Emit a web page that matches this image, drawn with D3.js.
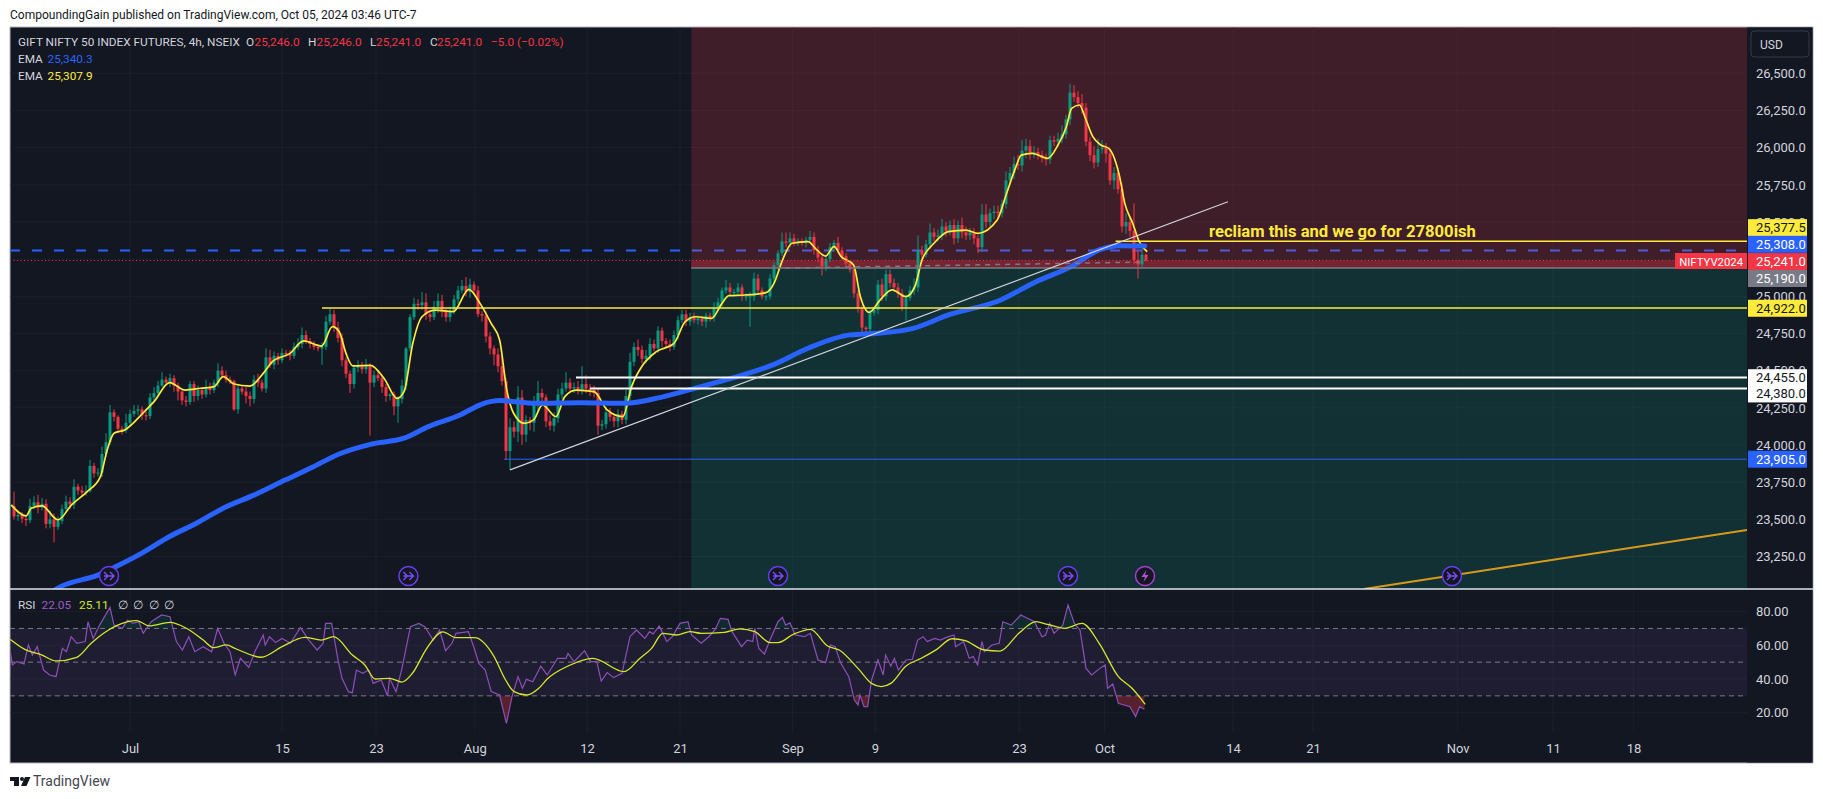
<!DOCTYPE html>
<html>
<head>
<meta charset="utf-8">
<script src="https://cdn.jsdelivr.net/npm/d3@7/dist/d3.min.js"></script>
<style>
  html, body { margin: 0; padding: 0; background: #fff; overflow: hidden; }
  text { font-family: Roboto, sans-serif; }
</style>
</head>
<body>
<script>
// --------------------------------------------------
// Data (one bar = 4h candle slot)
// --------------------------------------------------
const closes = [
  23590,23520,23530,23505,23495,23590,23615,23580,23605,23470,
  23500,23450,23490,23570,23620,23600,23720,23695,23680,23690,
  23860,23810,23815,23940,24020,24220,24190,24110,24100,24150,
  24210,24230,24240,24200,24195,24320,24350,24400,24440,24420,
  24450,24400,24360,24300,24290,24410,24330,24370,24340,24390,
  24370,24420,24500,24470,24440,24430,24240,24380,24360,24330,
  24310,24440,24420,24380,24590,24540,24600,24570,24620,24610,
  24600,24660,24680,24740,24700,24680,24660,24650,24660,24830,
  24880,24790,24720,24570,24480,24410,24520,24530,24510,24530,
  24420,24470,24450,24390,24330,24340,24260,24310,24400,24650,
  24860,24950,24940,24960,24880,24860,24930,24970,24900,24860,
  24900,24980,25040,25070,25030,25080,25040,24880,24870,24730,
  24650,24610,24530,24430,23960,24120,24090,24320,24070,24170,
  24150,24270,24350,24320,24160,24130,24180,24340,24380,24420,
  24380,24390,24370,24410,24380,24370,24350,24130,24140,24220,
  24190,24160,24210,24170,24330,24560,24660,24640,24580,24600,
  24680,24650,24770,24700,24680,24660,24740,24840,24880,24830,
  24860,24840,24850,24830,24870,24860,24920,24960,25040,25060,
  25030,25030,25060,25000,25000,25000,25120,25040,25000,25000,
  25120,25210,25290,25370,25360,25390,25360,25370,25360,25380,
  25400,25310,25260,25200,25250,25330,25360,25310,25270,25220,
  25180,25020,24920,24790,24780,24890,24910,25080,25000,25150,
  25090,25060,25020,24930,24990,25040,25060,25310,25280,25350,
  25430,25400,25410,25470,25440,25480,25390,25480,25430,25410,
  25430,25390,25330,25550,25500,25560,25570,25560,25620,25780,
  25830,25890,25880,25980,26010,25960,25970,25950,25930,25920,
  26050,26040,26060,26090,26190,26370,26340,26300,26270,26040,
  25950,25900,25990,26000,25960,25780,25830,25720,25470,25500,
  25440,25245,25215,25280,25241
];
const wickUp = [
  20,97,30,20,20,50,40,50,40,30, 60,40,30,30,40,30,50,20,30,40,
  40,20,30,50,60,50,20,10,20,60, 30,40,30,20,25,30,40,30,50,20,
  30,20,20,10,30,20,20,30,20,50, 30,20,50,30,30,20,10,30,20,30,
  30,30,40,20,60,50,30,20,30,20, 30,30,40,50,30,20,20,20,30,40,
  40,30,40,30,20,20,20,40,30,50, 20,30,30,20,20,10,20,20,40,10,
  20,40,30,70,60,30,40,50,40,20, 30,30,30,40,60,40,20,30,20,30,
  30,20,40,70,20,60,40,77,50,30, 20,60,80,30,20,40,40,40,40,70,
  30,30,40,120,60,30,30,30,30,40, 30,20,30,20,40,60,30,50,30,40,
  40,30,30,20,20,30,30,30,30,30, 30,30,20,20,20,20,40,30,20,50,
  30,20,30,20,20,30,40,30,20,10, 30,20,20,60,60,40,30,20,20,20,
  40,30,30,30,30,30,20,40,20,20, 10,10,20,20,10,20,20,30,40,30,
  30,30,30,30,20,30,60,100,30,30, 60,30,40,50,30,30,40,30,50,40,
  30,30,20,70,70,30,40,40,30,60, 40,50,60,70,50,40,40,30,30,30,
  30,30,40,60,30,60,50,40,60,30, 30,60,70,50,30,30,40,30,40,60,
  40,185,60,40,5
];
const wickDown = [
  30,20,30,30,40,20,20,40,20,30, 30,105,20,20,20,30,30,30,20,20,
  10,30,20,30,20,20,30,30,30,20, 20,20,30,30,30,20,30,20,10,20,
  30,40,60,30,30,20,40,30,30,20, 30,20,30,20,20,20,10,30,20,50,
  50,30,30,20,30,20,30,30,20,20, 30,20,20,30,20,30,20,20,110,20,
  20,30,30,40,30,60,30,30,30,30, 357,30,20,40,40,30,60,110,30,30,
  20,20,30,30,40,30,20,40,40,30, 30,20,30,20,30,40,30,20,40,40,
  40,73,40,30,60,127,40,70,68,50, 50,60,50,60,40,30,40,30,30,20,
  30,30,30,30,30,40,30,60,30,30, 30,40,40,30,30,40,30,40,30,30,
  30,20,30,40,20,30,20,30,20,30, 30,20,30,30,40,30,30,20,30,20,
  30,30,20,30,30,204,30,30,20,30, 20,30,30,20,30,30,20,20,20,30,
  20,30,30,60,30,20,30,20,30,30, 20,30,30,40,20,20,20,30,30,30,
  30,30,30,30,93,20,30,30,30,20, 30,30,30,30,40,30,40,30,40,30,
  30,40,40,30,40,30,40,40,30,30, 30,40,30,40,50,40,30,30,30,40,
  30,30,30,30,30,40,30,30,40,30, 40,40,30,30,60,30,60,30,40,50,
  40,30,95,20,5
];

const fastEmaBars = [0.3,4,5.3,8,12,15.4,19.3,22.6,24.3,26,28.7,33.2,36,39.9,43.8,47.7,51,53.3,56,60,63.3,65.6,70,73.4,77.9,80.6,82.3,84,85.7,90.1,93.5,96.8,98.5,100.7,103,106.3,110.8,114.7,117.5,120.3,122.4,124.2,125.9,128.6,130.9,133.1,136.5,138.7,141.5,146,149.3,153.2,155.4,158.2,161.6,166,168.8,171.4,175.4,178,179.7,183.7,189,191,193.3,195.5,199.5,201.7,203.9,206,207.8,210.9,212.6,214.8,217.5,220.5,224,226.2,228,231,234.6,239,242,246.8,249,251.5,252.8,255.5,259.4,262,264.1,265.4,267.4,268.7,270.7,272.7,274.7,277.4,278.7,280.7,282.3,284.3];
const fastEmaValues = [23598,23524,23575,23591,23497,23598,23687,23788,23967,24079,24102,24214,24292,24420,24370,24382,24393,24460,24411,24397,24482,24561,24617,24700,24666,24796,24762,24617,24532,24536,24449,24314,24359,24684,24863,24908,24897,25047,24953,24818,24706,24370,24214,24146,24169,24270,24191,24326,24370,24359,24236,24191,24393,24538,24628,24684,24830,24863,24852,24953,25005,25009,25025,25088,25256,25357,25368,25312,25271,25334,25267,25211,24998,24893,24975,25043,24998,25065,25244,25357,25435,25446,25424,25513,25680,25872,25950,25962,25928,26018,26141,26264,26287,26208,26074,26018,25995,25805,25625,25490,25368,25300];

const slowEmaBars = [8,12,22.1,26.5,33.2,39.9,46.6,53.3,61.1,68.9,75.6,82.3,90.1,98.5,104.6,112.5,118,122.5,131.4,142.6,153.8,162.7,170.3,178.9,190.7,199.5,210,217,225.8,234.6,247.7,256.5,265.3,272.3,277.5,283.7];
const slowEmaValues = [22960,23038,23127,23183,23277,23385,23474,23575,23665,23766,23851,23940,24005,24046,24124,24202,24276,24299,24281,24285,24281,24321,24375,24438,24539,24651,24741,24752,24785,24875,24976,25099,25200,25312,25341,25339];

const rsiBars = [0.1,0.6,1.7,3.5,4.6,5.6,6.8,8.4,9.9,11.5,13.1,14.1,15.3,16.7,18.8,19.5,20.8,22.4,25,26,28.1,29.4,30.7,32.2,33.3,35.3,37.9,40,41.6,43.1,44.7,46.2,48.3,50.4,51.9,53.5,55,56.3,57.6,59.7,61.2,63.3,63.8,64.9,66.4,68,70.1,72.6,74.7,76.8,78.3,78.9,80.4,82,83,84.6,85.6,86.6,88.2,89.7,90.8,92.8,94.4,94.9,96.5,98,100.1,102.2,103.7,105.8,107.4,108.9,110.5,111.5,114.6,116.2,117.2,118.8,120.3,122.4,124.1,125.5,127,128.1,129.1,130.7,132.7,134.3,136.9,139,139.5,141,142.1,143.6,145.2,146.7,147.8,149.3,150.9,153,155,156.6,158.7,159.9,160.8,162.3,164.2,165.6,167.5,169.5,170.4,172.8,174.7,176.2,177.6,179.5,180.5,182.9,184.3,185.7,186.2,187.2,188.6,190,192,193.1,193.9,195,196.3,198.6,200.1,202,203.9,205.1,206.3,207.7,209.7,211.1,212,212.5,213.5,214.4,215.4,217,218.3,218.9,220.2,221.1,222.1,224,225.6,226.9,228.3,229.3,231.2,232.6,234.1,236,236.4,238.4,239.8,240.8,241.9,243,243.6,245.5,247.3,248.2,250.3,252.7,256.1,258,258.9,259.9,261,263.2,264.5,266.1,267.5,269,270.4,272.8,273.8,274.4,275.7,277.1,280,281.4,282.4,283.6];
const rsiValues = [56.2,48.3,50.3,48.9,60.2,54.2,59.2,45.3,42.4,41.4,58.2,56.2,65.1,61.2,62.2,74,64.1,72,82.5,72,70.1,75,73,74,67.1,74,78,77,62.2,57.2,65.1,56.2,59.2,56.2,70.1,61.2,56.2,42.4,52.3,46.9,56.2,66.1,60.2,65.1,61.6,64.1,61.2,70.5,63.1,57.2,61.2,73,73,51.3,40.4,32.5,31.9,45.3,43.4,45.3,37.4,39.4,29.9,40.4,32.5,46.3,71.1,73,71.1,63.1,69.1,56.8,61.2,67.1,68.1,57.2,49.3,45.3,32.5,30.5,13.7,29.5,41.4,34.5,39.8,38.4,47.7,42.4,52.3,52.3,55.2,50.3,52.9,56.8,50.3,50.3,38.8,43.8,40.8,43.4,65.1,69.1,64.1,68.1,66.7,71.5,62.2,65.1,73,74,66.1,61.2,65.1,69.1,76,75.4,68.1,59.2,63.1,62.2,70.1,58.2,54.8,63.1,74,76.6,72,73.4,66.1,65.1,67.1,51.3,49.7,60.2,59.2,49.3,41.4,27.5,24.6,30.5,23.6,23.6,39.4,51.3,42.4,54.2,47.7,52.3,45.3,51.3,51.7,63.1,65.1,62.2,64.1,63.1,64.7,66.1,59.2,62.2,52.3,53.3,48.3,62.2,56.2,60.2,61.2,74,72,78,74,65.1,66.1,73,67.1,72,83.9,73,69.1,46.3,42.4,46.9,48.3,34.5,37,25.6,23.6,17.7,23.6,22];

const rsiMaBars = [0.1,3.7,7.9,11.5,16.7,20.3,23.4,26.5,31.7,34.8,40,44.1,48.3,50.9,54,56.6,62.8,68,73.7,77.8,80.9,85.6,88.7,91.3,94.9,98,100.6,104.2,108.2,111.5,116.2,120.8,123.9,126,129.1,132.2,134.3,139.5,145.7,153.5,157.5,160.4,163.2,166.6,170,172.8,178.6,182.4,186.2,190,192,195.8,200.1,204.4,207.3,212,215.4,217.8,220.2,224,227.8,231.7,235.5,238.8,243.6,247.5,252.2,256.5,259.4,263.7,268,272.3,277.1,280.5,283.8];
const rsiMaValues = [63.5,57.6,54.3,50.7,52.9,61.2,67.1,71.5,74.6,71.5,73.6,70.1,63.1,58.6,60.2,57.8,52.9,59.2,64.7,63.1,65.1,54.2,48.3,40,40.4,38.2,43.4,58.2,68,64.5,64.5,54.2,39.4,32.5,30.5,34.5,40,47.7,52.3,44.4,52.3,58.2,67.1,66.1,68.1,67.1,67.7,69.7,68.1,61.6,61.6,66.5,69.5,59.6,57.2,46.3,37.4,35.5,37.4,47.7,52.3,57.6,63.9,62.8,57.2,56.6,67.1,74,72.4,70.1,73,61.2,41.4,34.5,25];

const priceTicks = [26500,26250,26000,25750,25500,25250,25000,24750,24500,24250,24000,23750,23500,23250];
const rsiTicks = [80,60,40,20];
const timeLabels = ['Jul','15','23','Aug','12','21','Sep','9','23','Oct','14','21','Nov','11','18'];
const timeBars = [30,68,91.5,116.2,144.25,167.5,195.6,216.25,252.25,273.65,305.75,325.75,361.9,385.75,405.9];
const eventBars = [24.75,99.6,192,264.5,360.5];
const dividendBar = 283.75;

// price levels drawn on the chart
const yellowLevels = [{ bar: 78, price: 24922 }, { bar: 276.4, price: 25370 }];
const whiteLevels = [{ bar: 141.5, price: 24455 }, { bar: 145, price: 24380 }];
const zoneSplit = 25190, lastPrice = 25241, slowDash = 25308, blueLevel = 23905;
const zoneStartBar = 170.3;

// price axis labels on coloured tags: value, centre price of the tag, colours
const tagTexts = ['25,377.5','25,308.0','25,241.0','25,190.0','24,922.0','24,455.0','24,380.0','23,905.0'];
const tagPrices = [25462,25350,25234,25120,24920,24453,24344,23905];
const tagFills = ['#ffeb3b','#2962ff','#f23645','#787b86','#ffeb3b','#ffffff','#ffffff','#2962ff'];
const tagInks = ['#131722','#ffffff','#ffffff','#ffffff','#131722','#131722','#131722','#ffffff'];

// --------------------------------------------------
// Layout and scales
// --------------------------------------------------
const W = 1823, H = 799;
const frame = { left: 10, top: 27, right: 1813, bottom: 763 };
const axisX = 1747, paneSplit = 589, timeTop = 732;

const svg = d3.select('body').append('svg').attr('width', W).attr('height', H)
  .style('display', 'block');

const x = d3.scaleLinear().domain([0, 434.25]).range([10, axisX]);
const y = d3.scaleLinear().domain([26500, 23250]).range([73.3, 556.6]);
const yRsi = d3.scaleLinear().domain([80, 20]).range([611.6, 712.7]);

const bars = closes.map((c, i) => {
  const o = i > 0 ? closes[i - 1] : c;
  return { i, o, c, h: Math.max(o, c) + wickUp[i], l: Math.min(o, c) - wickDown[i] };
});

// top caption
svg.append('text').attr('x', 10).attr('y', 19).attr('font-size', 12).attr('fill', '#131722')
  .text('CompoundingGain published on TradingView.com, Oct 05, 2024 03:46 UTC-7');

// chart frame
svg.append('rect').attr('x', frame.left).attr('y', frame.top)
  .attr('width', frame.right - frame.left).attr('height', frame.bottom - frame.top)
  .attr('fill', '#131722').attr('stroke', '#b2b5be').attr('stroke-width', 1);

const defs = svg.append('defs');
defs.append('clipPath').attr('id', 'mainClip').append('rect')
  .attr('x', frame.left).attr('y', frame.top).attr('width', axisX - frame.left).attr('height', paneSplit - frame.top);
defs.append('clipPath').attr('id', 'rsiHigh').append('rect')
  .attr('x', frame.left).attr('y', paneSplit).attr('width', axisX - frame.left).attr('height', yRsi(70) - paneSplit);
defs.append('clipPath').attr('id', 'rsiLow').append('rect')
  .attr('x', frame.left).attr('y', yRsi(30)).attr('width', axisX - frame.left).attr('height', timeTop - yRsi(30));

// grid
const grid = svg.append('g').attr('stroke', '#2a2e39').attr('stroke-opacity', 0.35);
grid.selectAll('.v').data(timeBars).enter().append('line')
  .attr('x1', d => x(d)).attr('x2', d => x(d)).attr('y1', frame.top).attr('y2', timeTop);
grid.selectAll('.h').data(priceTicks).enter().append('line')
  .attr('x1', frame.left).attr('x2', axisX).attr('y1', d => y(d)).attr('y2', d => y(d));
grid.selectAll('.r').data(rsiTicks).enter().append('line')
  .attr('x1', frame.left).attr('x2', axisX).attr('y1', d => yRsi(d)).attr('y2', d => yRsi(d));

const main = svg.append('g').attr('clip-path', 'url(#mainClip)');

// dashed EMA level goes under the zones so it picks up their tint
main.append('line').attr('x1', frame.left).attr('x2', axisX).attr('y1', y(slowDash)).attr('y2', y(slowDash))
  .attr('stroke', '#2962ff').attr('stroke-width', 2).attr('stroke-dasharray', '10,12');

// zones
main.append('rect').attr('x', x(zoneStartBar)).attr('y', frame.top)
  .attr('width', axisX - x(zoneStartBar)).attr('height', y(zoneSplit) - frame.top)
  .attr('fill', '#f23645').attr('fill-opacity', 0.2);
main.append('rect').attr('x', x(zoneStartBar)).attr('y', y(zoneSplit))
  .attr('width', axisX - x(zoneStartBar)).attr('height', paneSplit - y(zoneSplit))
  .attr('fill', '#089981').attr('fill-opacity', 0.2);
main.append('rect').attr('x', x(zoneStartBar)).attr('y', y(lastPrice))
  .attr('width', axisX - x(zoneStartBar)).attr('height', y(zoneSplit) - y(lastPrice))
  .attr('fill', '#f23645').attr('fill-opacity', 0.3);

// candles
const candleColor = d => d.c >= d.o ? '#089981' : '#f23645';
main.selectAll('.wick').data(bars).enter().append('line')
  .attr('x1', d => x(d.i)).attr('x2', d => x(d.i))
  .attr('y1', d => y(d.h)).attr('y2', d => y(d.l))
  .attr('stroke', candleColor).attr('stroke-width', 1);
main.selectAll('.body').data(bars).enter().append('rect')
  .attr('x', d => x(d.i) - 1.5).attr('width', 3)
  .attr('y', d => y(Math.max(d.o, d.c)))
  .attr('height', d => Math.max(1, Math.abs(y(d.o) - y(d.c))))
  .attr('fill', candleColor);

// EMAs
const emaLine = d3.line().curve(d3.curveMonotoneX);
main.append('path')
  .attr('d', emaLine(fastEmaBars.map((b, i) => [x(b), y(fastEmaValues[i])])))
  .attr('fill', 'none').attr('stroke', '#ffeb3b').attr('stroke-width', 1.7);
main.append('path')
  .attr('d', emaLine(slowEmaBars.map((b, i) => [x(b), y(slowEmaValues[i])])))
  .attr('fill', 'none').attr('stroke', '#2962ff').attr('stroke-width', 5).attr('stroke-linecap', 'round');

// horizontal drawings
function hLevel(bar, price, color, width) {
  main.append('line').attr('x1', x(bar)).attr('x2', axisX).attr('y1', y(price)).attr('y2', y(price))
    .attr('stroke', color).attr('stroke-width', width);
}
yellowLevels.forEach(d => hLevel(d.bar, d.price, '#ffeb3b', 1.5));
whiteLevels.forEach(d => hLevel(d.bar, d.price, '#ffffff', 2));
hLevel(123.5, blueLevel, '#2962ff', 1);
hLevel(zoneStartBar, zoneSplit, '#787b86', 1.5);
main.append('line').attr('x1', frame.left).attr('x2', axisX).attr('y1', y(lastPrice)).attr('y2', y(lastPrice))
  .attr('stroke', '#f23645').attr('stroke-width', 1).attr('stroke-dasharray', '1,2.5');

// trend lines
const trend = (b1, p1, b2, p2) => main.append('line')
  .attr('x1', x(b1)).attr('y1', y(p1)).attr('x2', x(b2)).attr('y2', y(p2));
trend(125, 23833, 304.5, 25636).attr('stroke', '#d1d4dc').attr('stroke-width', 1.2);
trend(193.8, 25190, 282.8, 25230).attr('stroke', '#787b86').attr('stroke-width', 1.5).attr('stroke-dasharray', '5,5');
trend(338.5, 23032, 434.25, 23429).attr('stroke', '#d99a1c').attr('stroke-width', 2);

// note
main.append('text').attr('x', 1209).attr('y', 237).attr('font-size', 16.6).attr('font-weight', 700)
  .attr('fill', '#ffeb3b').text('recliam this and we go for 27800ish');

// event icons
const icons = main.selectAll('.icon').data(eventBars).enter().append('g')
  .attr('transform', d => 'translate(' + x(d) + ',576)');
icons.append('circle').attr('r', 9.5).attr('fill', '#131722').attr('stroke', '#6a3df0').attr('stroke-width', 1.5);
icons.append('path').attr('d', 'M-5,-4L-1,0L-5,4M-5,0H4M1,-4L5,0L1,4')
  .attr('fill', 'none').attr('stroke', '#7a4df5').attr('stroke-width', 1.4);
const bolt = main.append('g').attr('transform', 'translate(' + x(dividendBar) + ',576)');
bolt.append('circle').attr('r', 9.5).attr('fill', '#131722').attr('stroke', '#a83ccf').attr('stroke-width', 1.5);
bolt.append('path').attr('d', 'M1.5,-6L-3.5,1H0L-1.5,6L3.5,-1H0Z').attr('fill', '#b84fdb');

// tag on the zone
main.append('rect').attr('x', 1675).attr('y', 253).attr('width', axisX - 1675).attr('height', 16).attr('fill', '#f23645');
main.append('text').attr('x', axisX - 4).attr('y', 265.5).attr('text-anchor', 'end').attr('font-size', 11.3)
  .attr('fill', '#fff').text('NIFTYV2024');

// --------------------------------------------------
// RSI pane
// --------------------------------------------------
const rsi = svg.append('g');
rsi.append('rect').attr('x', frame.left).attr('y', yRsi(70)).attr('width', axisX - frame.left)
  .attr('height', yRsi(30) - yRsi(70)).attr('fill', '#7e57c2').attr('fill-opacity', 0.1);
rsi.selectAll('.band').data([70, 50, 30]).enter().append('line')
  .attr('x1', frame.left).attr('x2', axisX).attr('y1', d => yRsi(d)).attr('y2', d => yRsi(d))
  .attr('stroke', '#787b86').attr('stroke-dasharray', '5,4');

const rsiPts = rsiBars.map((b, i) => [b, rsiValues[i]]);
rsi.append('path').attr('clip-path', 'url(#rsiHigh)')
  .attr('d', d3.area().x(d => x(d[0])).y0(yRsi(70)).y1(d => yRsi(d[1]))(rsiPts))
  .attr('fill', '#089981').attr('fill-opacity', 0.15);
rsi.append('path').attr('clip-path', 'url(#rsiLow)')
  .attr('d', d3.area().x(d => x(d[0])).y0(yRsi(30)).y1(d => yRsi(d[1]))(rsiPts))
  .attr('fill', '#f23645').attr('fill-opacity', 0.3);
rsi.append('path').attr('d', d3.line().x(d => x(d[0])).y(d => yRsi(d[1]))(rsiPts))
  .attr('fill', 'none').attr('stroke', '#8e4fb8').attr('stroke-width', 1.2);
rsi.append('path')
  .attr('d', emaLine(rsiMaBars.map((b, i) => [x(b), yRsi(rsiMaValues[i])])))
  .attr('fill', 'none').attr('stroke', '#d4e82a').attr('stroke-width', 1.3);

// --------------------------------------------------
// Axes
// --------------------------------------------------
svg.append('rect').attr('x', axisX).attr('y', frame.top + 0.5).attr('width', frame.right - axisX - 0.5)
  .attr('height', frame.bottom - frame.top - 1).attr('fill', '#131722');

function styleAxis(g) {
  g.select('.domain').remove();
  g.selectAll('.tick line').remove();
  g.selectAll('.tick text').attr('fill', '#d1d4dc').attr('font-size', 13).attr('font-family', 'Roboto, sans-serif');
}
svg.append('g').attr('transform', 'translate(1750,0)')
  .call(d3.axisRight(y).tickValues(priceTicks).tickSize(0).tickPadding(6).tickFormat(d3.format(',.1f')))
  .call(styleAxis);
svg.append('g').attr('transform', 'translate(1750,0)')
  .call(d3.axisRight(yRsi).tickValues(rsiTicks).tickSize(0).tickPadding(6).tickFormat(d3.format('.2f')))
  .call(styleAxis);
svg.append('g').attr('transform', 'translate(0,738)')
  .call(d3.axisBottom(x).tickValues(timeBars).tickSize(0).tickPadding(6).tickFormat((d, i) => timeLabels[i]))
  .call(styleAxis);

// price tags
const tags = svg.selectAll('.tag').data(tagTexts).enter().append('g')
  .attr('transform', (d, i) => 'translate(1748,' + y(tagPrices[i]) + ')');
tags.append('rect').attr('x', 0).attr('y', -8.5).attr('width', 59).attr('height', 17)
  .attr('fill', (d, i) => tagFills[i]);
tags.append('text').attr('x', 8).attr('dy', '0.35em').attr('font-size', 13)
  .attr('fill', (d, i) => tagInks[i]).text(d => d);

// pane separator
svg.append('line').attr('x1', frame.left).attr('x2', frame.right).attr('y1', paneSplit).attr('y2', paneSplit)
  .attr('stroke', '#e0e3eb').attr('stroke-width', 1.5);

// USD box
svg.append('rect').attr('x', 1751).attr('y', 31).attr('width', 58).attr('height', 26).attr('rx', 3)
  .attr('fill', '#131722').attr('stroke', '#363a45');
svg.append('text').attr('x', 1760).attr('y', 49).attr('font-size', 12).attr('fill', '#d1d4dc').text('USD');

// --------------------------------------------------
// Legends
// --------------------------------------------------
function legend(py, items) {
  items.forEach(it => {
    svg.append('text').attr('x', it[0]).attr('y', py).attr('font-size', 11.8)
      .attr('fill', it[2]).text(it[1]);
  });
}
const lightInk = '#d1d4dc', redInk = '#f23645';
legend(46, [[18, 'GIFT NIFTY 50 INDEX FUTURES, 4h, NSEIX', lightInk], [246, 'O', lightInk], [254.5, '25,246.0', redInk],
  [308, 'H', lightInk], [316.5, '25,246.0', redInk], [370, 'L', lightInk], [376, '25,241.0', redInk],
  [430, 'C', lightInk], [437, '25,241.0', redInk], [491, '−5.0 (−0.02%)', redInk]]);
legend(63, [[18, 'EMA', lightInk], [47.5, '25,340.3', '#2962ff']]);
legend(80, [[18, 'EMA', lightInk], [47.5, '25,307.9', '#ffeb3b']]);
legend(609, [[18, 'RSI', lightInk], [41.5, '22.05', '#9c5cc6'], [79, '25.11', '#d4e82a'],
  [118, '∅', lightInk], [133, '∅', lightInk], [149, '∅', lightInk], [164, '∅', lightInk]]);

// TradingView mark
svg.append('path').attr('d', 'M10,777H19V786H14V781H10Z M25,777H30.5L26.5,786H21Z').attr('fill', '#131722');
svg.append('circle').attr('cx', 22).attr('cy', 779).attr('r', 2).attr('fill', '#131722');
svg.append('text').attr('x', 33).attr('y', 786).attr('font-size', 14).attr('fill', '#434651').text('TradingView');
</script>
</body>
</html>
